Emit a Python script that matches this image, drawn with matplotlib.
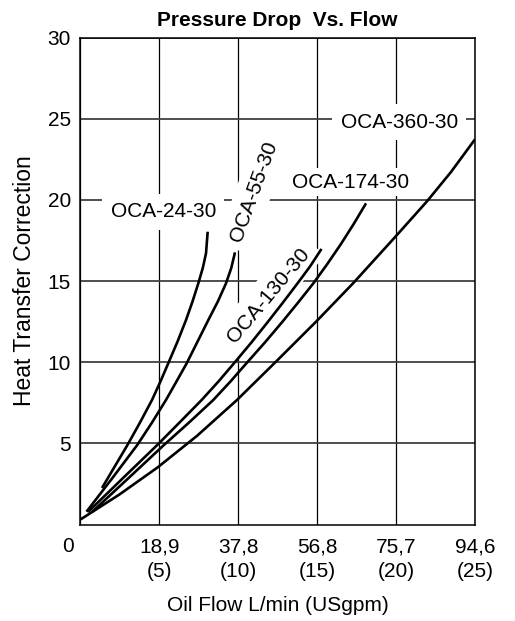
import matplotlib
matplotlib.use("Agg")
import matplotlib.pyplot as plt
import matplotlib.transforms as mtransforms

plt.rcParams['font.family'] = ['Liberation Sans', 'DejaVu Sans']

# x = oil flow (L/min), y = heat transfer correction
oca24_x = [5.16, 8.27, 11.27, 14.27, 17.15, 19.18, 21.05, 23.26, 25.30, 26.86, 28.25, 29.33, 30.10, 30.50]
oca24_y = [2.26, 3.61, 4.91, 6.29, 7.68, 8.82, 9.94, 11.27, 12.60, 13.74, 14.86, 15.81, 16.71, 18.04]

oca55_x = [1.44, 7.67, 13.62, 17.15, 20.50, 23.02, 25.47, 28.06, 30.65, 32.93, 34.89, 36.16, 37.05]
oca55_y = [0.80, 2.88, 4.91, 6.29, 7.68, 8.82, 9.94, 11.27, 12.60, 13.74, 14.86, 15.81, 16.77]

oca130_x = [1.80, 10.07, 18.42, 23.74, 29.06, 33.09, 36.88, 40.98, 44.72, 48.37, 52.04, 55.04, 57.79]
oca130_y = [0.78, 2.84, 4.91, 6.29, 7.68, 8.82, 9.96, 11.22, 12.42, 13.62, 14.86, 15.90, 16.98]

oca174_x = [2.76, 11.39, 20.02, 26.02, 31.85, 35.97, 39.93, 44.32, 48.27, 52.09, 55.83, 59.18, 62.45, 65.52, 68.47]
oca174_y = [0.78, 2.84, 4.91, 6.29, 7.68, 8.82, 9.98, 11.25, 12.45, 13.65, 14.86, 16.05, 17.28, 18.52, 19.79]

oca360_x = [0.05, 9.23, 18.51, 27.94, 37.53, 46.64, 56.64, 65.35, 75.01, 83.02, 88.85, 94.6]
oca360_y = [0.33, 1.84, 3.53, 5.47, 7.68, 9.98, 12.54, 14.86, 17.59, 19.89, 21.72, 23.73]

xticks = [0, 18.9, 37.8, 56.8, 75.7, 94.6]
xticklabels = ["0", "18,9\n(5)", "37,8\n(10)", "56,8\n(15)", "75,7\n(20)", "94,6\n(25)"]
yticks = [5, 10, 15, 20, 25, 30]

fig = plt.figure(figsize=(5.15, 6.21), dpi=100)
ax = fig.add_axes([0.1563, 0.1551, 0.766, 0.7845])

curves = [
    (oca24_x, oca24_y),
    (oca55_x, oca55_y),
    (oca130_x, oca130_y),
    (oca174_x, oca174_y),
    (oca360_x, oca360_y),
]
for cx, cy in curves:
    ax.plot(cx, cy, color='black', lw=1.9, zorder=4,
            solid_capstyle='butt', solid_joinstyle='round')

ax.set_xlim(0, 94.6)
ax.set_ylim(0, 30)
ax.set_xticks(xticks)
ax.set_xticklabels(xticklabels, fontsize=15, linespacing=1.38)
ax.set_yticks(yticks)
ax.set_yticklabels([str(v) for v in yticks], fontsize=15)
ax.tick_params(length=0, pad=7)
ax.tick_params(axis='x', pad=9)

# the "0" sits a little left of the corner
zero_lbl = ax.get_xticklabels()[0]
zero_lbl.set_transform(zero_lbl.get_transform() +
                       mtransforms.ScaledTranslation(-0.12, 0, fig.dpi_scale_trans))

ax.set_axisbelow(True)
ax.xaxis.grid(True, color='black', lw=0.9)
ax.yaxis.grid(True, color='#404040', lw=1.3)
for s in ax.spines.values():
    s.set_linewidth(1.1)

box = dict(facecolor='white', edgecolor='none', boxstyle='square,pad=0.4')
box_tight = dict(facecolor='white', edgecolor='none', boxstyle='square,pad=0.2')
ax.text(76.43, 24.78, "OCA-360-30", fontsize=15, ha='center', va='center', bbox=box)
ax.text(64.82, 21.1, "OCA-174-30", fontsize=15, ha='center', va='center', bbox=box_tight)
ax.text(19.86, 19.26, "OCA-24-30", fontsize=15, ha='center', va='center', bbox=box)
ax.text(41.61, 20.54, "OCA-55-30", fontsize=15, ha='center', va='center', rotation=70,
        rotation_mode='anchor', bbox=box)
ax.text(45.04, 14.14, "OCA-130-30", fontsize=15, ha='center', va='center', rotation=50,
        rotation_mode='anchor', bbox=box)

ax.set_title("Pressure Drop  Vs. Flow", fontsize=15, fontweight='bold', pad=8)
ax.set_xlabel("Oil Flow L/min (USgpm)", fontsize=15, labelpad=11)
ax.set_ylabel("Heat Transfer Correction", fontsize=16.5, labelpad=8)

fig.savefig("out.png", dpi=100)
